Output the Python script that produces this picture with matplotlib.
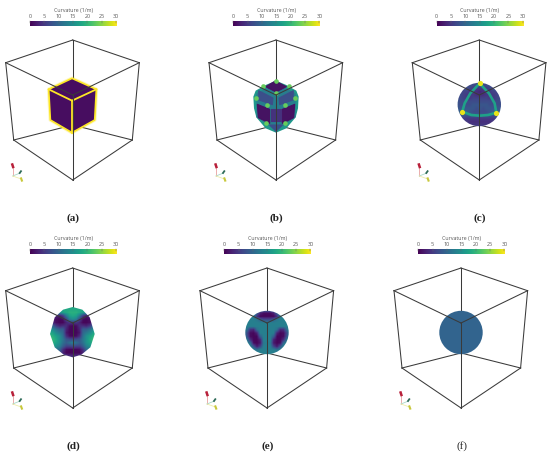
import numpy as np
import matplotlib
matplotlib.use('Agg')
import matplotlib.pyplot as plt
from matplotlib.patches import Polygon, Circle

# =============================================================================
# values
# =============================================================================
bar_ticks = [0, 5, 10, 15, 20, 25, 30]
bar_title = "Curvature (1/m)"
captions = ["(a)", "(b)", "(c)", "(d)", "(e)", "(f)"]

cube_face = 1.0
cube_edge = 30.0
sphere_f = 9.5

# panel b, curvature of each patch on the rounded cube
b_rim = 16.0
b_inner = 12.5
b_top = 1.0
b_upper = 7.0
b_side = 1.0
b_lower = 4.0
b_bottom = 7.0
b_spot = 23.0
# panel c
c_ridge = 17.0
c_node = 29.0

field_c = [
    [7, 7, 7, 7, 7, 7, 7, 7, 7, 7, 7, 7, 7, 7, 7],
    [7, 7, 7, 7, 7, 7, 6, 6, 6, 7, 7, 7, 7, 7, 7],
    [7, 7, 7, 7, 6, 5, 5, 5, 5, 5, 6, 7, 7, 7, 7],
    [7, 7, 6, 6, 5, 5, 4, 3, 4, 5, 5, 6, 6, 7, 7],
    [7, 7, 6, 5, 5, 5, 4, 4, 4, 5, 5, 5, 6, 7, 7],
    [7, 7, 6, 5, 5, 6, 6, 6, 6, 6, 5, 5, 6, 7, 7],
    [8, 7, 7, 7, 7, 7, 7, 7, 7, 7, 7, 7, 7, 7, 8],
    [8, 7, 7, 7, 7, 8, 8, 8, 8, 8, 7, 7, 7, 7, 8],
    [8, 8, 8, 8, 8, 8, 7, 8, 7, 8, 8, 8, 8, 8, 8],
    [9, 9, 8, 9, 8, 7, 7, 7, 7, 7, 8, 9, 8, 9, 9],
    [8, 8, 8, 8, 8, 8, 8, 8, 8, 8, 8, 8, 8, 8, 8],
    [7, 7, 6, 5, 5, 5, 5, 5, 5, 5, 5, 5, 6, 7, 7],
    [7, 6, 5, 5, 4, 4, 4, 4, 4, 4, 4, 5, 5, 6, 7],
    [7, 6, 6, 5, 5, 5, 5, 5, 5, 5, 5, 5, 6, 6, 7],
    [7, 7, 7, 7, 7, 7, 7, 7, 7, 7, 7, 7, 7, 7, 7],
]
field_d = [
    [18, 18, 18, 18, 18, 18, 18, 18, 18, 18, 18, 18, 18, 18, 18],
    [18, 18, 18, 18, 18, 18, 18, 18, 18, 18, 18, 18, 18, 18, 18],
    [17, 17, 16, 15, 17, 18, 19, 19, 19, 18, 17, 15, 16, 17, 17],
    [8, 6, 3, 2, 5, 12, 17, 18, 17, 12, 5, 2, 3, 6, 8],
    [3, 2, 1, 0.5, 1, 6, 13, 15, 13, 6, 1, 0.5, 1, 2, 3],
    [5, 3, 1, 0.5, 0.5, 3, 5, 4, 5, 3, 0.5, 0.5, 1, 3, 5],
    [11, 9, 5, 3, 4, 4, 1, 0.5, 1, 4, 4, 3, 5, 9, 11],
    [15, 14, 11, 9, 9, 3, 0.5, 0.5, 0.5, 3, 9, 9, 11, 14, 15],
    [18, 17, 14, 12, 10, 2, 0.5, 0.5, 0.5, 2, 10, 12, 14, 17, 18],
    [20, 19, 17, 15, 11, 4, 1, 0.5, 1, 4, 11, 15, 17, 19, 20],
    [20, 20, 18, 15, 12, 8, 7, 7, 7, 8, 12, 15, 18, 20, 20],
    [19, 19, 17, 15, 11, 9, 11, 13, 11, 9, 11, 15, 17, 19, 19],
    [17, 17, 15, 13, 9, 6, 6, 7, 6, 6, 9, 13, 15, 17, 17],
    [13, 13, 11, 10, 4, 1, 0.5, 0.5, 0.5, 1, 4, 10, 11, 13, 13],
    [10, 10, 10, 8, 3, 0.5, 0.5, 0.5, 0.5, 0.5, 3, 8, 10, 10, 10],
    [10, 10, 10, 10, 8, 5, 4, 4, 4, 5, 8, 10, 10, 10, 10],
]
field_e = [
    [13, 13, 13, 13, 13, 13, 12, 12, 12, 13, 13, 13, 13, 13, 13],
    [13, 13, 13, 13, 9, 3, 1, 1, 1, 3, 9, 13, 13, 13, 13],
    [13, 13, 13, 13, 4, 0.5, 0.5, 0.5, 0.5, 0.5, 4, 13, 13, 13, 13],
    [13, 13, 13, 13, 12, 9, 7, 7, 7, 9, 12, 13, 13, 13, 13],
    [13, 13, 13, 13, 13, 13, 13, 13, 13, 13, 13, 13, 13, 13, 13],
    [13, 13, 13, 13, 13, 13, 13, 13, 13, 13, 13, 13, 13, 13, 13],
    [13, 11, 4, 3, 11, 13, 13, 13, 13, 13, 11, 3, 4, 11, 13],
    [13, 7, 1, 0.5, 3, 13, 13, 13, 13, 13, 3, 0.5, 1, 7, 13],
    [13, 8, 1, 0.5, 0.5, 9, 13, 13, 13, 9, 0.5, 0.5, 1, 8, 13],
    [13, 12, 4, 0.5, 0.5, 3, 13, 13, 13, 3, 0.5, 0.5, 4, 12, 13],
    [13, 13, 11, 1, 0.5, 2, 12, 13, 12, 2, 0.5, 1, 11, 13, 13],
    [13, 13, 13, 8, 2, 6, 13, 13, 13, 6, 2, 8, 13, 13, 13],
    [13, 13, 13, 13, 11, 13, 13, 13, 13, 13, 11, 13, 13, 13, 13],
    [13, 13, 13, 13, 13, 13, 13, 13, 13, 13, 13, 13, 13, 13, 13],
    [13, 13, 13, 13, 13, 13, 13, 13, 13, 13, 13, 13, 13, 13, 13],
]

# =============================================================================
# layout, in pixels of the 550x455 picture
# =============================================================================
centres = [72.7, 276, 479.3, 72.7, 267, 461]
tops = [40, 40, 40, 268, 268, 268]
caption_y = [218.5, 218.5, 218.5, 446, 446, 446]

T, L, R = (0, 0), (-67, 22.7), (66.6, 22.7)
F, K = (0, 55), (0, 85)   # front and back corner
LL, LR, B = (-59, 100), (59.6, 100), (0, 140)
back_edges = [(T, K), (LL, K), (LR, K)]
front_edges = [(T, L), (T, R), (L, LL), (R, LR), (LL, B), (LR, B), (L, F), (R, F), (F, B)]

# shapes, in 3x crop coordinates (crop corner is centre-33, top+30)
hull_a = [(97, 25), (170, 58), (165, 150), (97, 188), (32, 150), (27, 58)]
hull_b = [(99, 32), (130, 45), (160, 62), (167, 80), (165, 115), (158, 142), (130, 175), (99, 188),
          (68, 175), (40, 142), (33, 115), (31, 80), (38, 62), (68, 45)]
hull_b_in = [(99, 42), (155, 72), (155, 140), (99, 178), (43, 140), (43, 72)]
hull_d = [(99, 27), (128, 35), (150, 58), (165, 108), (152, 148), (125, 170), (99, 178),
          (72, 170), (45, 148), (31, 108), (45, 58), (70, 35)]
patches_b = [
    ([(97, 33), (130, 50), (99, 66), (68, 50)], b_top),
    ([(47, 62), (90, 84), (88, 104), (48, 90)], b_upper),
    ([(151, 62), (108, 84), (110, 104), (150, 90)], b_upper),
    ([(43, 103), (80, 118), (80, 160), (46, 143)], b_side),
    ([(155, 103), (118, 118), (118, 160), (152, 143)], b_side),
    ([(85, 118), (113, 118), (113, 153), (85, 153)], b_lower),
    ([(80, 165), (118, 165), (99, 184)], b_bottom),
]
spots_b = [(99, 70), (40, 85), (157, 85), (72, 105), (125, 105), (70, 158), (125, 158), (99, 34), (60, 48), (138, 48)]
ridges_c = [
    [(100, 40), (72, 70), (55, 100), (48, 125)],
    [(100, 40), (128, 70), (145, 100), (150, 128)],
    [(48, 125), (75, 135), (100, 137), (125, 135), (150, 128)],
]
nodes_c = [(100, 40), (48, 125), (150, 128)]
sphere_r = 21.7
sphere_y = 64.5

cmap = plt.get_cmap('viridis')
norm = plt.Normalize(0, 30)
line_col = '#3a3a3a'
text_col = '#555555'

fig = plt.figure(figsize=(5.5, 4.55), dpi=100)
ax = fig.add_axes([0, 0, 1, 1])
ax.axis('off')


def crop_pts(pts, ox, oy):
    return [(ox + p[0] / 3, oy + p[1] / 3) for p in pts]


def show_field(field, ox, oy, clip, y0):
    arr = np.array(field, dtype=float)
    y1 = y0 + 10 * arr.shape[0]
    im = ax.imshow(arr, cmap=cmap, norm=norm, aspect='auto', interpolation='bilinear', zorder=3,
                   extent=(ox + 25 / 3, ox + 175 / 3, oy + y1 / 3, oy + y0 / 3))
    clip.set_transform(ax.transData)
    im.set_clip_path(clip)


def patch_val(pts, val, soft=0.8):
    ax.add_patch(Polygon(pts, closed=True, fc=cmap(norm(val)), ec=cmap(norm(val)), lw=soft,
                         joinstyle='round', alpha=0.95, zorder=3))


for n in range(6):
    cx, ty = centres[n], tops[n]
    ox, oy = cx - 33, ty + 30

    for a, b in back_edges:
        ax.plot([cx + a[0], cx + b[0]], [ty + a[1], ty + b[1]], color=line_col, lw=0.75, zorder=2)

    if n == 0:
        pts = crop_pts(hull_a, ox, oy)
        yellow = cmap(norm(cube_edge))
        ax.add_patch(Polygon(pts, closed=True, fc='none', ec=yellow, alpha=0.3, lw=2.6, joinstyle='round', zorder=3))
        ax.add_patch(Polygon(pts, closed=True, fc=cmap(norm(cube_face)), ec=yellow, lw=1.2, joinstyle='round', zorder=3))
        mid = crop_pts([(97, 92)], ox, oy)[0]
        for p in crop_pts([(27, 58), (170, 58), (97, 188)], ox, oy):
            ax.plot([mid[0], p[0]], [mid[1], p[1]], color=yellow, lw=1.3, zorder=3)
    elif n == 1:
        ax.add_patch(Polygon(crop_pts(hull_b, ox, oy), closed=True, fc=cmap(norm(b_rim)), ec='none', zorder=3))
        patch_val(crop_pts(hull_b_in, ox, oy), b_inner, soft=1.5)
        for pts, val in patches_b:
            patch_val(crop_pts(pts, ox, oy), val)
        sp = crop_pts(spots_b, ox, oy)
        ax.scatter([p[0] for p in sp], [p[1] for p in sp], s=11, color=cmap(norm(b_spot)), linewidths=0, zorder=3)
    elif n == 2:
        clip = Circle((cx, ty + sphere_y), sphere_r)
        show_field(field_c, ox, oy, clip, 30)
        for r in ridges_c:
            pts = crop_pts(r, ox, oy)
            ax.plot([p[0] for p in pts], [p[1] for p in pts], color=cmap(norm(c_ridge)), lw=1.9,
                    solid_capstyle='round', zorder=3)
        sp = crop_pts(nodes_c, ox, oy)
        ax.scatter([p[0] for p in sp], [p[1] for p in sp], s=14, color=cmap(norm(c_node)), linewidths=0, zorder=3)
    elif n == 3:
        show_field(field_d, ox, oy, Polygon(crop_pts(hull_d, ox, oy), closed=True), 20)
    elif n == 4:
        show_field(field_e, ox, oy, Circle((cx, ty + sphere_y), sphere_r), 30)
    else:
        ax.add_patch(Circle((cx, ty + sphere_y), sphere_r, fc=cmap(norm(sphere_f)), ec='none', zorder=3))

    for a, b in front_edges:
        ax.plot([cx + a[0], cx + b[0]], [ty + a[1], ty + b[1]], color=line_col, lw=0.75, zorder=4)

    # colour bar above each box
    bx0, bx1 = cx - 42.7, cx + 43.4
    by0, by1 = ty - 18.7, ty - 14.3
    grad = np.linspace(0, 30, 256).reshape(1, -1)
    ax.imshow(grad, cmap=cmap, norm=norm, aspect='auto', extent=(bx0, bx1, by1, by0), zorder=3)
    for t in bar_ticks:
        xt = bx0 + (bx1 - bx0) * t / 30
        ax.plot([xt, xt], [by0 - 0.5, by0 + 1.2], color='#666666', lw=0.35, zorder=4)
        ax.text(xt, ty - 24, str(t), ha='center', va='center', fontsize=3.9,
                family='Open Sans', color=text_col)
    ax.text(cx + 0.5, ty - 29.7, bar_title, ha='center', va='center', fontsize=3.8,
            family='Open Sans', color=text_col)

    # orientation triad
    tx, tz = cx - 60, ty + 136
    ax.plot([tx, tx], [tz, tz - 10], color='#e8a0a0', lw=0.6, zorder=2)
    ax.plot([tx, tx + 7.5], [tz, tz - 3], color='#a8d8c8', lw=0.6, zorder=2)
    ax.plot([tx, tx + 8.5], [tz, tz + 3], color='#eeeeaa', lw=0.6, zorder=2)
    ax.plot([tx - 0.4, tx + 0.4], [tz - 11.5, tz - 9], color='#b8203a', lw=1.8, zorder=2)
    ax.plot([tx + 7, tx + 8.3], [tz - 3, tz - 4.8], color='#2e6b58', lw=1.3, zorder=2)
    ax.plot([tx + 8.4, tx + 9.2], [tz + 2.4, tz + 4.6], color='#c8c83c', lw=1.5, zorder=2)

    ax.text(cx + 0.6, caption_y[n], captions[n], ha='center', va='center', fontsize=8,
            family='Liberation Serif', weight='normal' if n == 5 else 'bold', color='#222222')

ax.set_xlim(0, 550)
ax.set_ylim(455, 0)
fig.savefig('out.png', dpi=100)
